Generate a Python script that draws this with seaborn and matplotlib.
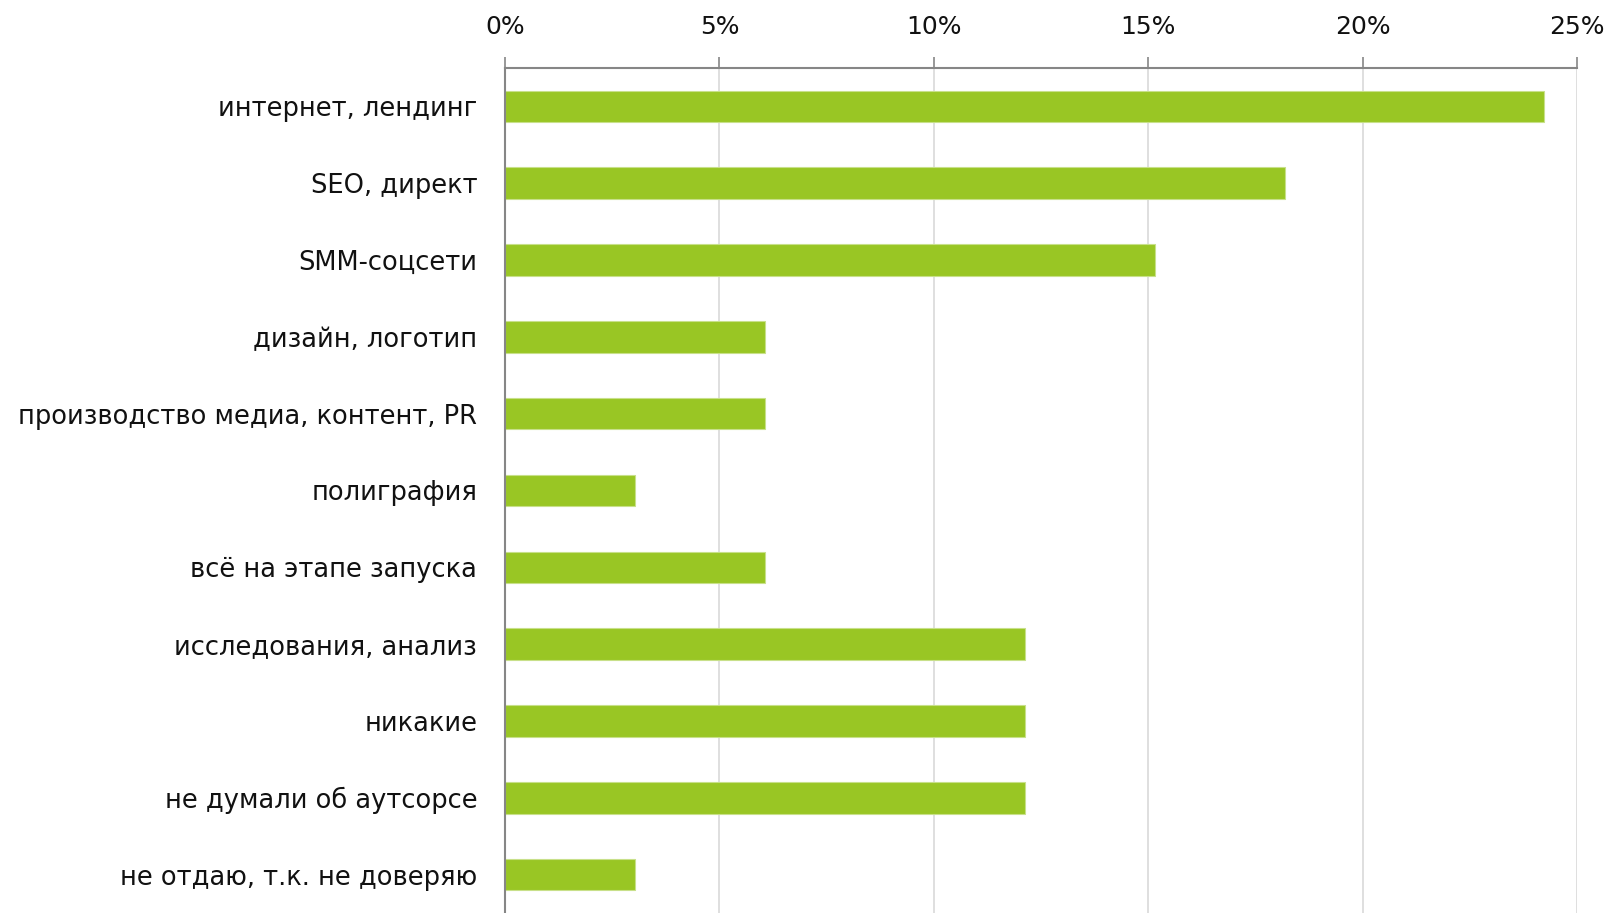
import matplotlib
matplotlib.use("Agg")
import matplotlib.pyplot as plt
from matplotlib.ticker import FixedLocator, PercentFormatter
import seaborn as sns
import pandas as pd

# Which kinds of marketing work are handed to outside contractors (share of answers)
categories = [
    "интернет, лендинг",
    "SEO, директ",
    "SMM-соцсети",
    "дизайн, логотип",
    "производство медиа, контент, PR",
    "полиграфия",
    "всё на этапе запуска",
    "исследования, анализ",
    "никакие",
    "не думали об аутсорсе",
    "не отдаю, т.к. не доверяю",
]
shares = [24.24, 18.18, 15.15, 6.06, 6.06, 3.03, 6.06, 12.12, 12.12, 12.12, 3.03]
x_ticks = [0, 5, 10, 15, 20, 25]

df = pd.DataFrame({"category": categories, "share": shares})

sns.set_theme(style="white")
plt.rcParams["font.family"] = ["DejaVu Sans"]

BAR = "#99c624"
GRID = "#d9d9d9"
AXIS = "#868686"
TEXT = "#111111"

fig = plt.figure(figsize=(16.15, 9.13), dpi=100)
ax = fig.add_axes([0.3127, 0.0, 0.9765 - 0.3127, 1 - 68 / 913])

sns.barplot(data=df, x="share", y="category", orient="h", order=categories,
            color=BAR, saturation=1, width=0.41, edgecolor="#c8e08a",
            linewidth=0.8, ax=ax)

n = len(categories)
ax.set_xlim(0, 25)
ax.set_ylim(n - 0.5, -0.5)

# value axis on top
ax.xaxis.tick_top()
ax.set_xticks(x_ticks)
ax.xaxis.set_major_formatter(PercentFormatter(decimals=0))
ax.tick_params(axis="x", which="major", direction="out", length=8, width=1.2,
               color=AXIS, pad=13, labelsize=18, labelcolor=TEXT)
ax.grid(axis="x", color=GRID, linewidth=1.2)
ax.set_axisbelow(True)

# category boundaries as major ticks, labels centred on minor ticks
ax.yaxis.set_major_locator(FixedLocator([i - 0.5 for i in range(n + 1)]))
ax.set_yticklabels([])
ax.yaxis.set_minor_locator(FixedLocator(list(range(n))))
ax.set_yticklabels(categories, minor=True)
ax.tick_params(axis="y", which="major", direction="out", length=8, width=1.2,
               color=AXIS)
ax.tick_params(axis="y", which="minor", length=0, pad=20, labelsize=18.5,
               labelcolor=TEXT)

ax.set_xlabel("")
ax.set_ylabel("")

for side in ("right", "bottom"):
    ax.spines[side].set_visible(False)
for side in ("left", "top"):
    ax.spines[side].set_color(AXIS)
    ax.spines[side].set_linewidth(1.5)

fig.savefig("out.png", dpi=100, facecolor="white")
